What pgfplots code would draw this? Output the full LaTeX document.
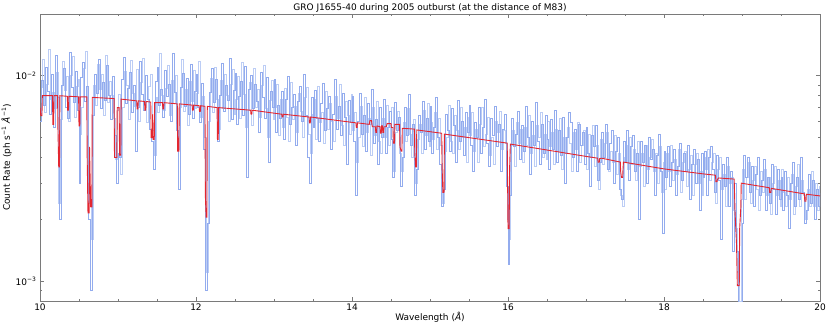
\documentclass[border=0pt]{standalone}
\usepackage{pgfplots}
\pgfplotsset{compat=1.18}
\usepackage{fontspec}
\setmainfont{DejaVu Sans}
\definecolor{specblue}{HTML}{93ACEE}
\definecolor{speclight}{HTML}{BCCDF5}
\definecolor{modelred}{HTML}{E32630}
\definecolor{framegray}{HTML}{7A7A7A}

\begin{document}
\begin{tikzpicture}
\begin{axis}[
    at={(40pt,28pt)}, anchor=south west,
    scale only axis,
    width=780pt, height=287pt,
    xmin=10, xmax=20,
    ymode=log, ymin=8e-4, ymax=2e-2,
    xtick={10,12,14,16,18,20},
    minor x tick num=3,
    ytick={1e-3,1e-2},
    yticklabels={10\textsuperscript{−3},10\textsuperscript{−2}},
    minor ytick={9e-4,2e-3,3e-3,4e-3,5e-3,6e-3,7e-3,8e-3,9e-3,2e-2},
    /pgf/number format/assume math mode=true,
    axis line style={framegray, line width=1pt},
    tick style={framegray, line width=0.6pt},
    major tick length=4pt, minor tick length=2pt,
    tick label style={font=\fontsize{9}{10}\selectfont, text=black},
    xticklabel style={yshift=1pt},
    title={GRO J1655-40 during 2005 outburst (at the distance of M83)},
    title style={font=\fontsize{9}{10}\selectfont, anchor=base, yshift=-2pt},
    xlabel={Wavelength (\textit{Å})},
    xlabel style={font=\fontsize{9}{10}\selectfont, yshift=5pt},
    ylabel={Count Rate (ph s\textsuperscript{−1} \textit{Å}\textsuperscript{−1})},
    ylabel style={font=\fontsize{9}{10}\selectfont, yshift=-3pt},
]

% second grating arm (bins offset by half a bin)
\addplot[const plot, color=speclight, line width=1pt] coordinates {
(10.0125,8.8e-3) (10.0375,12.0e-3) (10.0625,6.6e-3) (10.0875,9.1e-3) (10.1125,13.5e-3)
(10.1375,7.7e-3) (10.1625,8.3e-3) (10.1875,6.9e-3) (10.2125,10.4e-3) (10.2375,2.4e-3)
(10.2625,6.1e-3) (10.2875,11.7e-3) (10.3125,8.5e-3) (10.3375,9.9e-3) (10.3625,6.0e-3)
(10.3875,10.0e-3) (10.4125,12.4e-3) (10.4375,6.3e-3) (10.4625,8.9e-3) (10.4875,9.6e-3)
(10.5125,5.2e-3) (10.5375,7.0e-3) (10.5625,10.9e-3) (10.5875,13.1e-3) (10.6125,3.6e-3)
(10.6375,2.4e-3) (10.6625,1.6e-3) (10.6875,9.0e-3) (10.7125,7.2e-3) (10.7375,11.4e-3)
(10.7625,8.6e-3) (10.7875,10.2e-3) (10.8125,6.4e-3) (10.8375,12.6e-3) (10.8625,7.4e-3)
(10.8875,9.4e-3) (10.9125,8.0e-3) (10.9375,6.2e-3) (10.9625,3.9e-3) (10.9875,6.8e-3)
(11.0125,8.1e-3) (11.0375,3.3e-3) (11.0625,7.0e-3) (11.0875,10.5e-3) (11.1125,9.0e-3)
(11.1375,6.1e-3) (11.1625,11.9e-3) (11.1875,8.2e-3) (11.2125,7.1e-3) (11.2375,10.7e-3)
(11.2625,6.0e-3) (11.2875,9.3e-3) (11.3125,12.1e-3) (11.3375,7.5e-3) (11.3625,5.9e-3)
(11.3875,8.9e-3) (11.4125,10.1e-3) (11.4375,5.4e-3) (11.4625,4.1e-3) (11.4875,7.8e-3)
(11.5125,6.6e-3) (11.5375,12.9e-3) (11.5625,8.0e-3) (11.5875,6.8e-3) (11.6125,8.7e-3)
(11.6375,11.2e-3) (11.6625,6.4e-3) (11.6875,9.5e-3) (11.7125,7.3e-3) (11.7375,10.0e-3)
(11.7625,4.4e-3) (11.7875,7.0e-3) (11.8125,12.0e-3) (11.8375,6.7e-3) (11.8625,8.6e-3)
(11.8875,5.7e-3) (11.9125,9.4e-3) (11.9375,7.5e-3) (11.9625,10.6e-3) (11.9875,6.9e-3)
(12.0125,8.2e-3) (12.0375,11.8e-3) (12.0625,6.3e-3) (12.0875,7.9e-3) (12.1125,5.0e-3)
(12.1375,1.1e-3) (12.1625,6.0e-3) (12.1875,9.7e-3) (12.2125,6.6e-3) (12.2375,11.0e-3)
(12.2625,7.7e-3) (12.2875,5.5e-3) (12.3125,9.5e-3) (12.3375,6.9e-3) (12.3625,10.2e-3)
(12.3875,8.0e-3) (12.4125,6.0e-3) (12.4375,9.1e-3) (12.4625,10.7e-3) (12.4875,6.5e-3)
(12.5125,7.7e-3) (12.5375,9.9e-3) (12.5625,6.2e-3) (12.5875,11.6e-3) (12.6125,8.1e-3)
(12.6375,5.6e-3) (12.6625,6.8e-3) (12.6875,9.3e-3) (12.7125,5.7e-3) (12.7375,10.8e-3)
(12.7625,7.0e-3) (12.7875,8.6e-3) (12.8125,6.3e-3) (12.8375,9.0e-3) (12.8625,11.2e-3)
(12.8875,6.9e-3) (12.9125,5.0e-3) (12.9375,7.6e-3) (12.9625,9.5e-3) (12.9875,6.1e-3)
(13.0125,7.0e-3) (13.0375,9.1e-3) (13.0625,5.1e-3) (13.0875,7.7e-3) (13.1125,5.6e-3)
(13.1375,8.7e-3) (13.1625,6.3e-3) (13.1875,4.8e-3) (13.2125,9.3e-3) (13.2375,6.1e-3)
(13.2625,7.1e-3) (13.2875,5.3e-3) (13.3125,8.2e-3) (13.3375,6.7e-3) (13.3625,5.0e-3)
(13.3875,7.8e-3) (13.4125,8.8e-3) (13.4375,5.2e-3) (13.4625,4.2e-3) (13.4875,6.5e-3)
(13.5125,7.7e-3) (13.5375,4.9e-3) (13.5625,8.9e-3) (13.5875,5.9e-3) (13.6125,6.6e-3)
(13.6375,4.7e-3) (13.6625,8.4e-3) (13.6875,5.5e-3) (13.7125,7.3e-3) (13.7375,6.0e-3)
(13.7625,4.8e-3) (13.7875,7.9e-3) (13.8125,6.2e-3) (13.8375,9.1e-3) (13.8625,5.7e-3)
(13.8875,4.6e-3) (13.9125,7.5e-3) (13.9375,6.4e-3) (13.9625,5.2e-3) (13.9875,8.1e-3)
(14.0125,5.4e-3) (14.0375,6.6e-3) (14.0625,3.8e-3) (14.0875,5.0e-3) (14.1125,7.1e-3)
(14.1375,4.5e-3) (14.1625,7.8e-3) (14.1875,5.3e-3) (14.2125,6.2e-3) (14.2375,4.1e-3)
(14.2625,7.0e-3) (14.2875,5.1e-3) (14.3125,7.5e-3) (14.3375,4.8e-3) (14.3625,4.2e-3)
(14.3875,6.2e-3) (14.4125,5.0e-3) (14.4375,7.2e-3) (14.4625,4.6e-3) (14.4875,5.7e-3)
(14.5125,7.0e-3) (14.5375,3.4e-3) (14.5625,5.3e-3) (14.5875,6.7e-3) (14.6125,4.2e-3)
(14.6375,3.4e-3) (14.6625,5.9e-3) (14.6875,4.8e-3) (14.7125,6.9e-3) (14.7375,5.2e-3)
(14.7625,4.0e-3) (14.7875,6.1e-3) (14.8125,3.0e-3) (14.8375,4.9e-3) (14.8625,5.8e-3)
(14.8875,4.2e-3) (14.9125,6.8e-3) (14.9375,5.1e-3) (14.9625,7.3e-3) (14.9875,4.5e-3)
(15.0125,5.9e-3) (15.0375,4.9e-3) (15.0625,6.6e-3) (15.0875,4.4e-3) (15.1125,6.2e-3)
(15.1375,4.6e-3) (15.1625,2.4e-3) (15.1875,4.3e-3) (15.2125,5.0e-3) (15.2375,7.2e-3)
(15.2625,4.8e-3) (15.2875,4.2e-3) (15.3125,6.4e-3) (15.3375,5.4e-3) (15.3625,4.4e-3)
(15.3875,7.0e-3) (15.4125,5.0e-3) (15.4375,5.6e-3) (15.4625,3.8e-3) (15.4875,6.3e-3)
(15.5125,5.1e-3) (15.5375,6.6e-3) (15.5625,4.3e-3) (15.5875,5.5e-3) (15.6125,3.8e-3)
(15.6375,5.8e-3) (15.6625,7.0e-3) (15.6875,4.5e-3) (15.7125,5.2e-3) (15.7375,6.3e-3)
(15.7625,4.1e-3) (15.7875,5.0e-3) (15.8125,3.7e-3) (15.8375,6.0e-3) (15.8625,5.3e-3)
(15.8875,6.7e-3) (15.9125,4.4e-3) (15.9375,5.4e-3) (15.9625,4.7e-3) (15.9875,2.0e-3)
(16.0125,1.6e-3) (16.0375,4.6e-3) (16.0625,5.4e-3) (16.0875,3.6e-3) (16.1125,5.9e-3)
(16.1375,4.7e-3) (16.1625,5.5e-3) (16.1875,3.8e-3) (16.2125,5.6e-3) (16.2375,4.6e-3)
(16.2625,6.4e-3) (16.2875,4.2e-3) (16.3125,5.1e-3) (16.3375,3.6e-3) (16.3625,5.7e-3)
(16.3875,5.0e-3) (16.4125,6.6e-3) (16.4375,4.0e-3) (16.4625,5.2e-3) (16.4875,3.9e-3)
(16.5125,6.0e-3) (16.5375,4.5e-3) (16.5625,5.3e-3) (16.5875,3.7e-3) (16.6125,5.5e-3)
(16.6375,4.3e-3) (16.6625,6.2e-3) (16.6875,3.5e-3) (16.7125,5.0e-3) (16.7375,4.2e-3)
(16.7625,5.6e-3) (16.7875,4.7e-3) (16.8125,3.4e-3) (16.8375,5.3e-3) (16.8625,4.4e-3)
(16.8875,5.9e-3) (16.9125,3.8e-3) (16.9375,4.6e-3) (16.9625,5.4e-3) (16.9875,4.1e-3)
(17.0125,3.5e-3) (17.0375,5.2e-3) (17.0625,4.0e-3) (17.0875,5.7e-3) (17.1125,3.6e-3)
(17.1375,4.6e-3) (17.1625,2.8e-3) (17.1875,4.9e-3) (17.2125,3.7e-3) (17.2375,4.7e-3)
(17.2625,5.3e-3) (17.2875,3.4e-3) (17.3125,4.3e-3) (17.3375,3.8e-3) (17.3625,5.1e-3)
(17.3875,3.3e-3) (17.4125,4.2e-3) (17.4375,2.6e-3) (17.4625,2.3e-3) (17.4875,4.0e-3)
(17.5125,4.6e-3) (17.5375,3.5e-3) (17.5625,5.0e-3) (17.5875,3.7e-3) (17.6125,4.4e-3)
(17.6375,3.1e-3) (17.6625,4.8e-3) (17.6875,3.6e-3) (17.7125,4.2e-3) (17.7375,2.9e-3)
(17.7625,4.6e-3) (17.7875,3.5e-3) (17.8125,4.0e-3) (17.8375,4.9e-3) (17.8625,3.4e-3)
(17.8875,4.2e-3) (17.9125,3.0e-3) (17.9375,4.5e-3) (17.9625,2.7e-3) (17.9875,3.8e-3)
(18.0125,2.8e-3) (18.0375,4.2e-3) (18.0625,3.4e-3) (18.0875,4.6e-3) (18.1125,3.1e-3)
(18.1375,3.9e-3) (18.1625,3.3e-3) (18.1875,4.4e-3) (18.2125,2.7e-3) (18.2375,3.8e-3)
(18.2625,4.3e-3) (18.2875,2.9e-3) (18.3125,3.5e-3) (18.3375,4.1e-3) (18.3625,2.6e-3)
(18.3875,3.7e-3) (18.4125,4.2e-3) (18.4375,3.0e-3) (18.4625,3.4e-3) (18.4875,2.6e-3)
(18.5125,4.0e-3) (18.5375,3.5e-3) (18.5625,4.4e-3) (18.5875,3.1e-3) (18.6125,3.8e-3)
(18.6375,4.2e-3) (18.6625,2.4e-3) (18.6875,3.5e-3) (18.7125,4.0e-3) (18.7375,2.8e-3)
(18.7625,3.3e-3) (18.7875,2.3e-3) (18.8125,3.6e-3) (18.8375,3.0e-3) (18.8625,3.2e-3)
(18.8875,2.2e-3) (18.9125,1.8e-3) (18.9375,1.1e-3) (18.9625,0.8e-3) (18.9875,2.5e-3)
(19.0125,3.5e-3) (19.0375,2.5e-3) (19.0625,3.2e-3) (19.0875,3.8e-3) (19.1125,2.4e-3)
(19.1375,3.1e-3) (19.1625,3.6e-3) (19.1875,2.8e-3) (19.2125,2.2e-3) (19.2375,3.4e-3)
(19.2625,2.7e-3) (19.2875,3.5e-3) (19.3125,2.6e-3) (19.3375,3.2e-3) (19.3625,2.1e-3)
(19.3875,3.0e-3) (19.4125,3.6e-3) (19.4375,2.6e-3) (19.4625,3.1e-3) (19.4875,2.3e-3)
(19.5125,3.5e-3) (19.5375,2.7e-3) (19.5625,2.3e-3) (19.5875,3.2e-3) (19.6125,2.5e-3)
(19.6375,3.3e-3) (19.6625,2.1e-3) (19.6875,2.9e-3) (19.7125,3.7e-3) (19.7375,2.3e-3)
(19.7625,3.1e-3) (19.7875,2.6e-3) (19.8125,2.0e-3) (19.8375,2.8e-3) (19.8625,2.3e-3)
(19.8875,3.4e-3) (19.9125,2.3e-3) (19.9375,3.0e-3) (19.9625,2.2e-3) (19.9875,2.9e-3)
};

% observed spectrum (binned, 0.025 A)
\addplot[const plot, color=specblue, line width=1pt] coordinates {
(10.000,6.0e-3) (10.025,9.5e-3) (10.050,7.2e-3) (10.075,11.0e-3) (10.100,8.4e-3)
(10.125,6.5e-3) (10.150,10.2e-3) (10.175,5.6e-3) (10.200,12.5e-3) (10.225,7.8e-3)
(10.250,2.0e-3) (10.275,9.0e-3) (10.300,10.8e-3) (10.325,7.0e-3) (10.350,6.2e-3)
(10.375,13.0e-3) (10.400,8.8e-3) (10.425,7.4e-3) (10.450,10.5e-3) (10.475,6.8e-3)
(10.500,3.0e-3) (10.525,9.8e-3) (10.550,11.6e-3) (10.575,7.5e-3) (10.600,8.9e-3)
(10.625,2.0e-3) (10.650,0.9e-3) (10.675,6.4e-3) (10.700,10.1e-3) (10.725,8.2e-3)
(10.750,12.0e-3) (10.775,6.9e-3) (10.800,9.3e-3) (10.825,7.6e-3) (10.850,11.2e-3)
(10.875,8.0e-3) (10.900,6.1e-3) (10.925,9.9e-3) (10.950,5.1e-3) (10.975,3.0e-3)
(11.000,4.2e-3) (11.025,4.0e-3) (11.050,9.6e-3) (11.075,12.3e-3) (11.100,7.3e-3)
(11.125,8.7e-3) (11.150,10.4e-3) (11.175,6.6e-3) (11.200,9.0e-3) (11.225,4.3e-3)
(11.250,7.0e-3) (11.275,11.8e-3) (11.300,8.1e-3) (11.325,6.8e-3) (11.350,10.0e-3)
(11.375,7.7e-3) (11.400,5.5e-3) (11.425,4.8e-3) (11.450,3.5e-3) (11.475,9.4e-3)
(11.500,11.0e-3) (11.525,7.2e-3) (11.550,8.6e-3) (11.575,6.3e-3) (11.600,10.6e-3)
(11.625,7.9e-3) (11.650,9.1e-3) (11.675,6.0e-3) (11.700,12.8e-3) (11.725,8.3e-3)
(11.750,5.4e-3) (11.775,2.8e-3) (11.800,8.8e-3) (11.825,10.3e-3) (11.850,7.1e-3)
(11.875,9.7e-3) (11.900,6.5e-3) (11.925,11.4e-3) (11.950,6.2e-3) (11.975,8.4e-3)
(12.000,10.1e-3) (12.025,7.0e-3) (12.050,5.9e-3) (12.075,9.2e-3) (12.100,4.4e-3)
(12.125,0.9e-3) (12.150,1.9e-3) (12.175,8.3e-3) (12.200,10.8e-3) (12.225,7.4e-3)
(12.250,9.6e-3) (12.275,4.8e-3) (12.300,8.0e-3) (12.325,11.5e-3) (12.350,6.7e-3)
(12.375,9.0e-3) (12.400,7.6e-3) (12.425,12.2e-3) (12.450,6.1e-3) (12.475,8.5e-3)
(12.500,10.3e-3) (12.525,5.8e-3) (12.550,7.9e-3) (12.575,9.4e-3) (12.600,6.4e-3)
(12.625,11.1e-3) (12.650,3.2e-3) (12.675,8.6e-3) (12.700,10.0e-3) (12.725,6.9e-3)
(12.750,9.1e-3) (12.775,7.5e-3) (12.800,5.3e-3) (12.825,10.4e-3) (12.850,7.8e-3)
(12.875,6.2e-3) (12.900,9.8e-3) (12.925,3.8e-3) (12.950,8.4e-3) (12.975,7.0e-3)
(13.000,9.6e-3) (13.025,5.3e-3) (13.050,7.2e-3) (13.075,6.2e-3) (13.100,8.4e-3)
(13.125,4.9e-3) (13.150,7.7e-3) (13.175,9.9e-3) (13.200,5.8e-3) (13.225,7.0e-3)
(13.250,8.1e-3) (13.275,4.6e-3) (13.300,7.5e-3) (13.325,8.9e-3) (13.350,6.0e-3)
(13.375,10.1e-3) (13.400,6.4e-3) (13.425,4.0e-3) (13.450,3.0e-3) (13.475,7.8e-3)
(13.500,5.6e-3) (13.525,8.5e-3) (13.550,6.2e-3) (13.575,4.8e-3) (13.600,7.3e-3)
(13.625,9.2e-3) (13.650,5.4e-3) (13.675,6.9e-3) (13.700,7.9e-3) (13.725,4.4e-3)
(13.750,6.5e-3) (13.775,9.6e-3) (13.800,5.5e-3) (13.825,7.1e-3) (13.850,5.1e-3)
(13.875,8.2e-3) (13.900,6.3e-3) (13.925,3.7e-3) (13.950,7.6e-3) (13.975,5.9e-3)
(14.000,7.9e-3) (14.025,4.8e-3) (14.050,2.6e-3) (14.075,6.0e-3) (14.100,8.2e-3)
(14.125,5.2e-3) (14.150,6.4e-3) (14.175,4.3e-3) (14.200,7.3e-3) (14.225,5.8e-3)
(14.250,8.6e-3) (14.275,4.7e-3) (14.300,6.1e-3) (14.325,3.7e-3) (14.350,7.0e-3)
(14.375,5.0e-3) (14.400,7.7e-3) (14.425,4.2e-3) (14.450,5.6e-3) (14.475,6.7e-3)
(14.500,4.9e-3) (14.525,3.2e-3) (14.550,7.4e-3) (14.575,5.4e-3) (14.600,6.3e-3)
(14.625,2.9e-3) (14.650,4.0e-3) (14.675,7.0e-3) (14.700,5.1e-3) (14.725,8.1e-3)
(14.750,4.6e-3) (14.775,5.8e-3) (14.800,2.6e-3) (14.825,3.5e-3) (14.850,6.4e-3)
(14.875,5.3e-3) (14.900,7.5e-3) (14.925,4.4e-3) (14.950,6.2e-3) (14.975,4.8e-3)
(15.000,7.1e-3) (15.025,4.2e-3) (15.050,5.6e-3) (15.075,7.8e-3) (15.100,5.0e-3)
(15.125,3.7e-3) (15.150,2.3e-3) (15.175,2.8e-3) (15.200,6.5e-3) (15.225,5.4e-3)
(15.250,4.3e-3) (15.275,6.9e-3) (15.300,5.7e-3) (15.325,3.8e-3) (15.350,7.6e-3)
(15.375,4.8e-3) (15.400,6.0e-3) (15.425,4.1e-3) (15.450,6.6e-3) (15.475,5.3e-3)
(15.500,7.2e-3) (15.525,4.6e-3) (15.550,3.4e-3) (15.575,5.9e-3) (15.600,5.0e-3)
(15.625,7.0e-3) (15.650,4.2e-3) (15.675,5.6e-3) (15.700,7.7e-3) (15.725,4.7e-3)
(15.750,3.6e-3) (15.775,6.2e-3) (15.800,5.1e-3) (15.825,7.1e-3) (15.850,4.5e-3)
(15.875,5.8e-3) (15.900,3.4e-3) (15.925,5.5e-3) (15.950,6.5e-3) (15.975,2.9e-3)
(16.000,1.2e-3) (16.025,2.6e-3) (16.050,6.2e-3) (16.075,4.5e-3) (16.100,5.2e-3)
(16.125,6.7e-3) (16.150,3.9e-3) (16.175,5.7e-3) (16.200,4.3e-3) (16.225,7.1e-3)
(16.250,5.0e-3) (16.275,3.3e-3) (16.300,6.0e-3) (16.325,4.6e-3) (16.350,7.4e-3)
(16.375,4.8e-3) (16.400,3.7e-3) (16.425,5.8e-3) (16.450,4.2e-3) (16.475,6.4e-3)
(16.500,4.9e-3) (16.525,3.5e-3) (16.550,6.1e-3) (16.575,4.4e-3) (16.600,6.8e-3)
(16.625,3.8e-3) (16.650,5.4e-3) (16.675,4.1e-3) (16.700,6.3e-3) (16.725,3.0e-3)
(16.750,5.0e-3) (16.775,6.6e-3) (16.800,5.9e-3) (16.825,4.0e-3) (16.850,5.5e-3)
(16.875,3.4e-3) (16.900,5.8e-3) (16.925,4.6e-3) (16.950,5.3e-3) (16.975,3.7e-3)
(17.000,5.6e-3) (17.025,4.2e-3) (17.050,2.9e-3) (17.075,5.1e-3) (17.100,4.5e-3)
(17.125,5.7e-3) (17.150,3.1e-3) (17.175,3.8e-3) (17.200,5.3e-3) (17.225,4.0e-3)
(17.250,5.8e-3) (17.275,3.5e-3) (17.300,4.7e-3) (17.325,5.4e-3) (17.350,3.0e-3)
(17.375,4.3e-3) (17.400,5.0e-3) (17.425,2.8e-3) (17.450,2.5e-3) (17.475,4.8e-3)
(17.500,3.8e-3) (17.525,5.4e-3) (17.550,3.1e-3) (17.575,4.5e-3) (17.600,5.1e-3)
(17.625,3.4e-3) (17.650,4.2e-3) (17.675,2.0e-3) (17.700,4.8e-3) (17.725,3.8e-3)
(17.750,4.6e-3) (17.775,3.0e-3) (17.800,5.0e-3) (17.825,3.9e-3) (17.850,4.4e-3)
(17.875,2.6e-3) (17.900,4.1e-3) (17.925,5.2e-3) (17.950,3.4e-3) (17.975,1.7e-3)
(18.000,4.3e-3) (18.025,3.2e-3) (18.050,4.5e-3) (18.075,2.9e-3) (18.100,3.8e-3)
(18.125,4.4e-3) (18.150,2.6e-3) (18.175,3.6e-3) (18.200,4.7e-3) (18.225,3.1e-3)
(18.250,4.2e-3) (18.275,3.4e-3) (18.300,4.6e-3) (18.325,2.5e-3) (18.350,3.7e-3)
(18.375,4.4e-3) (18.400,3.0e-3) (18.425,3.9e-3) (18.450,2.2e-3) (18.475,4.2e-3)
(18.500,3.2e-3) (18.525,4.3e-3) (18.550,2.6e-3) (18.575,4.0e-3) (18.600,4.5e-3)
(18.625,3.5e-3) (18.650,2.7e-3) (18.675,4.1e-3) (18.700,3.1e-3) (18.725,1.6e-3)
(18.750,3.7e-3) (18.775,2.9e-3) (18.800,4.0e-3) (18.825,2.3e-3) (18.850,3.4e-3)
(18.875,1.4e-3) (18.900,3.0e-3) (18.925,1.4e-3) (18.950,0.7e-3) (18.975,0.75e-3)
(19.000,1.9e-3) (19.025,4.1e-3) (19.050,3.2e-3) (19.075,4.0e-3) (19.100,2.7e-3)
(19.125,3.6e-3) (19.150,2.3e-3) (19.175,3.3e-3) (19.200,4.0e-3) (19.225,2.6e-3)
(19.250,3.1e-3) (19.275,3.9e-3) (19.300,2.2e-3) (19.325,3.2e-3) (19.350,2.4e-3)
(19.375,3.7e-3) (19.400,2.8e-3) (19.425,2.1e-3) (19.450,3.5e-3) (19.475,2.5e-3)
(19.500,3.2e-3) (19.525,2.2e-3) (19.550,3.4e-3) (19.575,2.6e-3) (19.600,1.8e-3)
(19.625,3.0e-3) (19.650,3.8e-3) (19.675,2.3e-3) (19.700,3.2e-3) (19.725,2.5e-3)
(19.750,4.0e-3) (19.775,2.7e-3) (19.800,1.9e-3) (19.825,2.2e-3) (19.850,3.3e-3)
(19.875,2.4e-3) (19.900,3.1e-3) (19.925,2.0e-3) (19.950,2.8e-3) (19.975,2.3e-3)
(20.000,2.7e-3)
};

% absorption-line model
\addplot[sharp plot, color=modelred, line width=0.9pt] coordinates {
(10.000,7.0e-3) (10.010,6.4e-3) (10.025,6.4e-3) (10.030,8.0e-3)
(10.160,8.0e-3) (10.165,5.8e-3) (10.175,5.8e-3) (10.180,8.0e-3)
(10.225,8.0e-3) (10.230,5.5e-3) (10.240,3.6e-3) (10.250,3.6e-3) (10.255,8.0e-3)
(10.350,7.95e-3) (10.355,6.8e-3) (10.365,6.8e-3) (10.370,7.95e-3)
(10.495,7.9e-3) (10.500,5.7e-3) (10.510,5.7e-3) (10.515,7.9e-3)
(10.600,7.9e-3) (10.605,4.0e-3) (10.615,2.15e-3) (10.630,2.15e-3) (10.635,4.5e-3)
(10.650,2.3e-3) (10.665,2.3e-3) (10.670,7.85e-3)
(10.950,7.75e-3) (10.955,4.0e-3) (10.985,4.0e-3) (10.990,7.0e-3)
(11.015,7.0e-3) (11.020,4.1e-3) (11.035,4.1e-3) (11.040,7.7e-3)
(11.240,7.55e-3) (11.245,6.9e-3) (11.255,6.9e-3) (11.260,7.55e-3)
(11.340,7.5e-3) (11.345,6.8e-3) (11.355,6.8e-3) (11.360,7.5e-3)
(11.420,7.45e-3) (11.425,5.0e-3) (11.440,5.0e-3) (11.445,6.5e-3)
(11.450,4.9e-3) (11.465,4.9e-3) (11.470,7.4e-3)
(11.570,7.4e-3) (11.575,6.9e-3) (11.585,6.9e-3) (11.590,7.4e-3)
(11.760,7.3e-3) (11.765,4.3e-3) (11.780,4.3e-3) (11.785,7.3e-3)
(11.950,7.2e-3) (11.955,6.8e-3) (11.965,6.8e-3) (11.970,7.2e-3)
(12.040,7.15e-3) (12.045,6.7e-3) (12.055,6.7e-3) (12.060,7.15e-3)
(12.115,7.1e-3) (12.120,2.6e-3) (12.130,2.05e-3) (12.140,2.05e-3) (12.145,7.1e-3)
(12.270,7.0e-3) (12.275,4.9e-3) (12.285,4.9e-3) (12.290,7.0e-3)
(12.700,6.8e-3) (12.705,6.5e-3) (12.715,6.5e-3) (12.720,6.8e-3)
(13.100,6.5e-3) (13.105,6.3e-3) (13.115,6.3e-3) (13.120,6.5e-3)
(13.450,6.3e-3) (13.455,5.9e-3) (13.465,5.9e-3) (13.470,6.3e-3)
(14.050,5.9e-3) (14.055,5.6e-3) (14.065,5.6e-3) (14.070,5.9e-3)
(14.220,5.8e-3) (14.230,6.05e-3) (14.250,6.05e-3) (14.260,5.65e-3)
(14.300,5.65e-3) (14.305,5.3e-3) (14.315,5.3e-3) (14.320,5.7e-3)
(14.360,5.65e-3) (14.365,5.25e-3) (14.375,5.25e-3) (14.380,5.7e-3)
(14.390,5.7e-3) (14.395,5.3e-3) (14.405,5.3e-3) (14.410,5.65e-3)
(14.440,5.65e-3) (14.450,5.85e-3) (14.500,5.85e-3) (14.505,5.6e-3)
(14.525,5.6e-3) (14.530,4.7e-3) (14.545,4.7e-3) (14.550,5.8e-3)
(14.610,5.8e-3) (14.615,4.5e-3) (14.630,4.3e-3) (14.640,4.3e-3) (14.645,5.55e-3)
(14.800,5.5e-3) (14.805,4.2e-3) (14.815,3.6e-3) (14.825,3.6e-3) (14.830,5.45e-3)
(15.150,5.25e-3) (15.155,3.6e-3) (15.165,2.7e-3) (15.180,2.7e-3) (15.185,5.2e-3)
(15.990,4.7e-3) (15.995,3.0e-3) (16.000,1.8e-3) (16.015,1.8e-3) (16.020,3.5e-3)
(16.030,4.65e-3)
(16.500,4.35e-3) (17.000,4.05e-3)
(17.150,3.97e-3) (17.155,3.8e-3) (17.170,3.8e-3) (17.175,3.95e-3) (17.200,3.97e-3)
(17.440,3.8e-3) (17.445,3.4e-3) (17.455,3.2e-3) (17.470,3.2e-3) (17.475,3.55e-3)
(17.480,3.8e-3)
(18.000,3.52e-3) (18.500,3.33e-3)
(18.660,3.28e-3) (18.665,3.05e-3) (18.680,3.05e-3) (18.685,3.13e-3) (18.700,3.18e-3)
(18.900,3.14e-3) (18.910,2.2e-3) (18.930,1.5e-3) (18.940,0.95e-3) (18.965,0.95e-3)
(18.970,1.8e-3) (18.985,2.3e-3) (18.990,3.0e-3)
(19.350,2.85e-3) (19.355,2.7e-3) (19.370,2.7e-3) (19.375,2.83e-3)
(19.800,2.66e-3) (19.805,2.45e-3) (19.820,2.45e-3) (19.825,2.65e-3)
(20.000,2.6e-3)
};

\end{axis}
\pgfresetboundingbox
\path (0,0) rectangle (830pt,329pt);
\end{tikzpicture}
\end{document}
